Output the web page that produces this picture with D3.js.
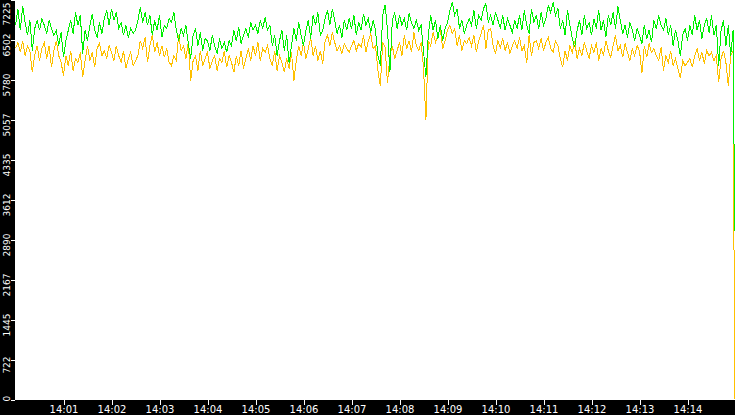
<!DOCTYPE html>
<html>
<head>
<meta charset="utf-8">
<script src="https://cdn.jsdelivr.net/npm/d3@7"></script>
<style>
  html, body { margin: 0; padding: 0; background: #000; overflow: hidden; }
  svg { display: block; }
</style>
</head>
<body>
<svg id="chart"></svg>
<script>
// Datos (una muestra cada 3 s desde las 14:00:00,
// la última lectura a las 14:14:59 es la caída final)
const startTime = new Date(2020, 0, 1, 14, 0, 0);
const endTime = new Date(2020, 0, 1, 14, 15, 0);
const lastTime = new Date(2020, 0, 1, 14, 14, 59);
const stepSeconds = 3;

const yTickLabels = [0, 722, 1445, 2167, 2890, 3612, 4335, 5057, 5780, 6502, 7225];
const xTickLabels = ["14:01", "14:02", "14:03", "14:04", "14:05", "14:06", "14:07",
                     "14:08", "14:09", "14:10", "14:11", "14:12", "14:13", "14:14"];

// serie superior (verde)
const upperSeries = [
  6760,7060,6670,7100,6810,6580,6850,6300,6700,6850,
  6670,6880,6760,6610,6850,6700,6580,6670,6390,6630,
  6180,6480,6670,6850,6610,6990,6760,6940,6250,6670,
  6480,6760,6970,6670,6540,6810,6610,6880,7030,6760,
  7060,6850,6990,6700,6810,6580,6760,6540,6700,6610,
  6670,6850,7080,6810,6990,6760,6940,6580,6850,6670,
  6940,6540,6760,6700,6880,6810,6990,6670,6480,6700,
  6580,6760,6430,6160,6580,6700,6390,6630,6300,6520,
  6480,6300,6580,6390,6250,6520,6340,6450,6270,6480,
  6390,6670,6480,6720,6430,6580,6700,6540,6810,6670,
  6760,6610,6850,6700,6900,6670,6760,6390,6580,6210,
  6480,6670,6300,6580,6070,6390,6700,6480,6810,6580,
  6390,6670,6850,6520,6940,6760,6990,6580,6670,6880,
  7030,6760,7060,6850,6610,6760,6540,6850,6670,6880,
  6700,6940,6580,6810,6670,6970,6760,6880,6630,6850,
  6670,6210,6030,6940,7130,6670,5910,6850,6990,6700,
  6940,6760,6880,6670,6970,6810,6700,6850,6670,6760,
  6300,5820,6580,6940,6670,6850,6520,6760,6480,6700,
  6810,7030,7170,6940,7060,6700,6850,6610,6760,6880,
  6760,7030,6700,6940,6850,7060,7150,6810,6940,6760,
  6990,6850,6720,6940,6670,6880,6760,6630,6850,6700,
  6940,6670,7030,6760,6610,7060,6810,6940,6700,6990,
  6760,6880,7120,6990,7170,6940,7060,6700,6850,6580,
  7030,6760,6520,6360,6670,6850,6580,6940,6700,6810,
  6580,6880,6700,7030,6670,6850,6540,6940,6760,6990,
  6700,7100,6850,6610,6760,6540,6810,6670,6480,6700,
  6580,6430,6760,6520,6670,6450,6850,6700,6940,6760,
  6670,6880,6580,6760,6390,6670,6480,6210,6580,6700,
  6480,6760,6580,6940,6670,6850,6520,6760,6880,6630,
  6940,6580,6760,6030,6670,6850,6390,6760,6210,6670,
  3050
];

// serie inferior (naranja)
const lowerSeries = [
  6340,6450,6270,6480,6210,6390,6300,5910,6210,6390,
  6120,6340,6450,6160,6390,6000,6300,6480,6210,6090,
  5850,6210,6030,6300,5940,6160,6090,6270,5820,6120,
  6390,6120,6270,6000,6340,6430,6210,6300,6160,6390,
  6270,6120,6390,6210,6090,6300,5980,6160,6270,6030,
  6120,6210,6480,6340,6540,6090,6390,6580,6270,6450,
  6210,6390,6180,6340,6090,6030,6210,6120,6580,6300,
  6390,6160,6450,5760,6120,6210,5940,6300,6030,6160,
  6270,5980,6120,6210,5940,6160,6090,6300,6000,6210,
  6090,5910,6210,6030,6300,5980,6160,6340,6120,6390,
  6210,6450,6120,6340,6270,6390,6160,6030,6300,5940,
  6210,6090,5910,6160,5980,6270,5760,6120,6390,6210,
  6450,6160,6340,6540,6210,6390,6120,6300,6070,6480,
  6580,6390,6630,6450,6300,6390,6250,6430,6340,6270,
  6390,6480,6300,6430,6360,6580,6270,6480,6610,6340,
  6390,5940,5670,6450,6360,5710,6210,6390,6160,6300,
  6450,6210,6580,6340,6480,6270,6630,6390,6300,6450,
  6000,5040,6480,6390,6630,6450,6580,6700,6340,6480,
  6670,6760,6610,6700,6390,6580,6300,6480,6430,6540,
  6390,6580,6270,6480,6610,6760,6340,6670,6700,6390,
  6250,6480,6360,6520,6300,6450,6250,6390,6480,6340,
  6540,6300,6390,6070,6580,6210,6450,6480,6340,6520,
  6300,6450,6540,6340,6270,6480,6390,6160,6000,6300,
  6120,6390,6270,6480,6160,6340,6210,6450,6300,6160,
  6390,6270,6450,6120,6340,6210,6480,6300,6180,6390,
  6580,6300,6390,6180,6430,6270,6120,6340,6210,6390,
  6300,5890,6390,6180,6430,6270,6340,6210,6120,6360,
  5940,6210,6090,6300,6030,6160,5980,5800,6120,6030,
  6090,6160,6000,6210,6340,6120,6270,6070,6300,6210,
  6270,6120,6210,5730,6160,6300,6090,5670,6210,6300,
  0
];

const width = 735;
const height = 415;
const left = 15;
const bottom = 400;

const svg = d3.select("#chart")
  .attr("width", width)
  .attr("height", height);

svg.append("rect")
  .attr("width", width)
  .attr("height", height)
  .attr("fill", "#000");

svg.append("rect")
  .attr("x", left)
  .attr("y", 0)
  .attr("width", width - left)
  .attr("height", bottom)
  .attr("fill", "#fff");

const xScale = d3.scaleTime()
  .domain([startTime, endTime])
  .range([left + 0.5, width + 0.5]);

const yScale = d3.scaleLinear()
  .domain([0, 7225])
  .range([bottom - 0.5, -0.5]);

// hora de cada muestra: cada 3 s, y la última lectura a las 14:14:59
const timeAt = (i, n) => i === n - 1
  ? lastTime
  : new Date(startTime.getTime() + i * stepSeconds * 1000);

svg.append("clipPath")
  .attr("id", "plot-clip")
  .append("rect")
  .attr("x", left)
  .attr("y", 0)
  .attr("width", width - left)
  .attr("height", bottom);

const line = d3.line()
  .x((d, i, arr) => xScale(timeAt(i, arr.length)))
  .y(d => yScale(d));

const plot = svg.append("g").attr("clip-path", "url(#plot-clip)");

plot.append("path")
  .datum(lowerSeries)
  .attr("fill", "none")
  .attr("stroke", "#ffc000")
  .attr("stroke-width", 1)
  .attr("shape-rendering", "crispEdges")
  .attr("d", line);

plot.append("path")
  .datum(upperSeries)
  .attr("fill", "none")
  .attr("stroke", "#00f000")
  .attr("stroke-width", 1)
  .attr("shape-rendering", "crispEdges")
  .attr("d", line);

// Ejes
const xTicks = xTickLabels.map(s => {
  const [h, m] = s.split(":").map(Number);
  return new Date(2020, 0, 1, h, m, 0);
});

const xAxis = d3.axisBottom(xScale)
  .tickValues(xTicks)
  .tickFormat(d3.timeFormat("%H:%M"))
  .tickSize(5)
  .tickPadding(1);

const gx = svg.append("g")
  .attr("id", "x-axis")
  .attr("transform", `translate(0, ${bottom})`)
  .call(xAxis);

gx.select(".domain").remove();
gx.selectAll("line").attr("stroke", "#fff").attr("shape-rendering", "crispEdges");
gx.selectAll("text")
  .attr("fill", "#fff")
  .attr("font-family", "DejaVu Sans")
  .attr("font-size", 10)
  .attr("dy", "0.72em");

const yAxis = d3.axisLeft(yScale)
  .tickValues(yTickLabels)
  .tickFormat(d3.format("d"))
  .tickSize(4);

const gy = svg.append("g")
  .attr("id", "y-axis")
  .attr("transform", `translate(${left}, 0)`)
  .call(yAxis);

gy.select(".domain").remove();
gy.selectAll("line").attr("stroke", "#fff").attr("shape-rendering", "crispEdges");
gy.selectAll("text")
  .attr("fill", "#fff")
  .attr("font-family", "DejaVu Sans")
  .attr("font-size", 9)
  .attr("text-anchor", "middle")
  .attr("dy", 0)
  .attr("transform", "rotate(-90)")
  .attr("y", -5)
  .each(function (d) {
    const len = this.getComputedTextLength();
    const ty = yScale(d);
    const center = Math.min(Math.max(ty + 5, len / 2 + 2), 401 - len / 2);
    d3.select(this).attr("x", -(center - ty));
  });
</script>
</body>
</html>
